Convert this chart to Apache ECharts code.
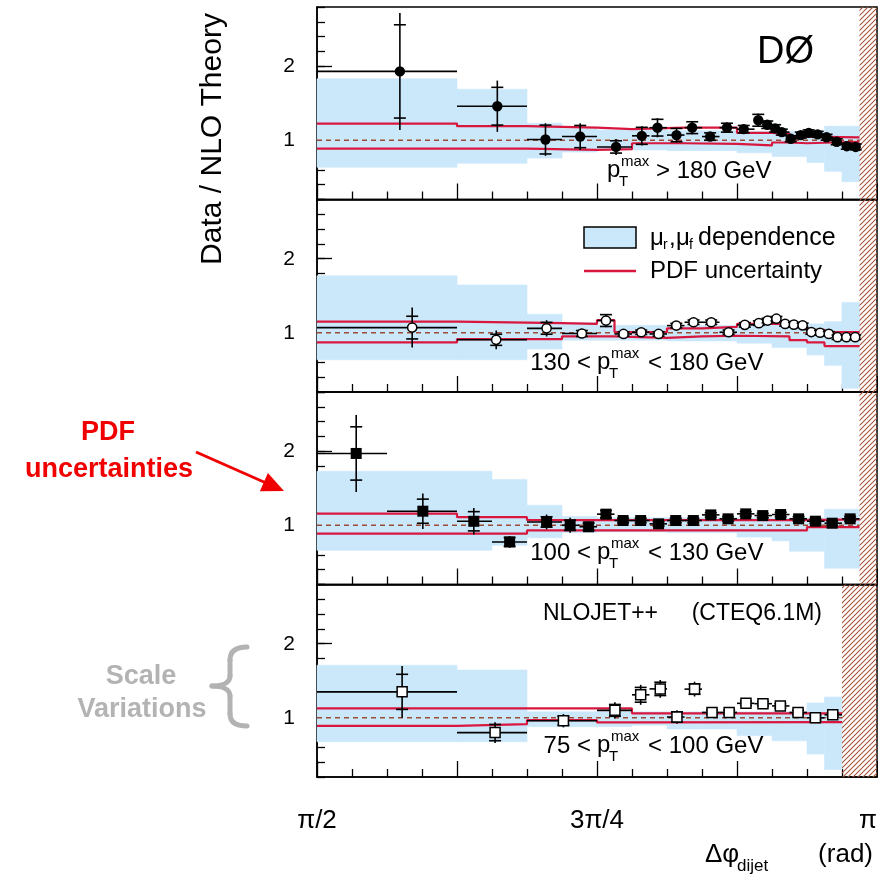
<!DOCTYPE html>
<html><head><meta charset="utf-8">
<script src="https://cdn.jsdelivr.net/npm/echarts@6/dist/echarts.min.js"></script>
<style>html,body{margin:0;padding:0;background:#fff}#c{width:878px;height:876px}</style>
</head><body><div id="c"></div>
<script>
// x values are Δφ in units of π
const xTickLabels = {0.5:'π/2', 0.75:'3π/4', 1:'π'};
const yTickLabels = [1, 2];
const panelLabels = ['> 180 GeV', '130 <|< 180 GeV', '100 <|< 130 GeV', '75 <|< 100 GeV'];

// ---- Panel 1: pT max > 180 GeV ----
const p1Edges = [0.5,0.625,0.6875,0.71875,0.75,0.78125,0.796875,0.8125,0.828125,0.84375,0.859375,0.875,0.890625,0.8984375,0.90625,0.9140625,0.921875,0.9296875,0.9375,0.9453125,0.953125,0.9609375,0.96875,0.9765625,0.984375];
const p1X = [0.574,0.661,0.704,0.735,0.767,0.790,0.804,0.821,0.835,0.851,0.866,0.881,0.894,0.902,0.909,0.915,0.923,0.932,0.939,0.947,0.955,0.964,0.973,0.981];
const p1Y = [1.93,1.46,1.01,1.05,0.91,1.06,1.17,1.07,1.17,1.05,1.17,1.15,1.27,1.21,1.16,1.11,1.02,1.07,1.10,1.08,1.04,0.98,0.92,0.91];
const p1Stat = [0.63,0.255,0.195,0.15,0.083,0.115,0.113,0.09,0.08,0.05,0.06,0.05,0.08,0.05,0.05,0.04,0.04,0.04,0.04,0.04,0.04,0.04,0.04,0.04];
const p1Tot = [0.79,0.346,0.22,0.18,0.108,0.13,0.13,0.10,0.09,0.06,0.07,0.06,0.09,0.06,0.06,0.05,0.05,0.05,0.05,0.05,0.05,0.05,0.05,0.05];
const p1BandEdges = [0.5,0.625,0.6875,0.71875,0.75,0.8125,0.875,0.90625,0.9375,0.953125,0.96875,0.984375];
const p1BandHi = [1.83,1.69,1.23,1.16,1.14,1.13,1.12,1.12,1.13,1.19,1.19];
const p1BandLo = [0.635,0.69,0.76,0.84,0.87,0.86,0.83,0.78,0.70,0.58,0.44];
const p1PdfEdges = [0.5,0.625,0.6875,0.75,0.78125,0.828125,0.875,0.90625,0.921875,0.9375,0.984375];
const p1PdfHi = [1.225,1.19,1.17,1.15,1.17,1.17,1.10,1.09,1.05,1.04];
const p1PdfLo = [0.887,0.887,0.87,0.88,0.96,0.95,0.93,0.97,0.96,0.98];
const p1Limit = 0.984375;

// ---- Panel 2: 130 < pT max < 180 GeV ----
const p2Edges = [0.5,0.625,0.6875,0.71875,0.75,0.765625,0.78125,0.796875,0.8125,0.828125,0.84375,0.859375,0.875,0.890625,0.8984375,0.90625,0.9140625,0.921875,0.9296875,0.9375,0.9453125,0.953125,0.9609375,0.96875,0.9765625,0.984375];
const p2X = [0.585,0.660,0.705,0.7365,0.758,0.7737,0.7895,0.805,0.8208,0.8362,0.852,0.8675,0.882,0.8945,0.9023,0.9102,0.918,0.9258,0.9336,0.9414,0.9492,0.957,0.9648,0.9727,0.9805];
const p2Y = [1.07,0.905,1.06,0.99,1.165,0.984,1.007,0.984,1.097,1.142,1.142,1.007,1.107,1.13,1.165,1.19,1.12,1.11,1.10,1.01,1.0,0.985,0.94,0.94,0.94];
const p2Stat = [0.153,0.075,0.08,0.04,0.08,0.03,0.03,0.03,0.03,0.03,0.03,0.03,0.03,0.03,0.03,0.03,0.03,0.03,0.03,0.03,0.03,0.03,0.03,0.03,0.03];
const p2Tot = [0.27,0.127,0.11,0.05,0.09,0.04,0.04,0.04,0.04,0.04,0.04,0.04,0.04,0.04,0.04,0.04,0.04,0.04,0.04,0.04,0.04,0.04,0.04,0.04,0.04];
const p2BandEdges = [0.5,0.625,0.6875,0.71875,0.75,0.8125,0.875,0.90625,0.9375,0.953125,0.96875,0.984375];
const p2BandHi = [1.77,1.645,1.25,1.14,1.10,1.10,1.12,1.12,1.12,1.15,1.41];
const p2BandLo = [0.635,0.635,0.78,0.90,0.90,0.89,0.86,0.80,0.70,0.56,0.25];
const p2PdfEdges = [0.5,0.625,0.71875,0.75,0.765625,0.8125,0.84375,0.875,0.921875,0.9375,0.953125,0.984375];
const p2PdfHi = [1.15,1.13,1.12,1.17,1.01,1.06,1.08,1.12,1.09,1.04,1.01];
const p2PdfLo = [0.87,0.914,0.95,0.95,0.93,0.95,0.96,0.95,0.90,0.87,0.82];
const p2Limit = 0.984375;

// ---- Panel 3: 100 < pT max < 130 GeV ----
const p3Edges = [0.5,0.5625,0.625,0.65625,0.6875,0.71875,0.734375,0.75,0.765625,0.78125,0.796875,0.8125,0.828125,0.84375,0.859375,0.875,0.890625,0.90625,0.921875,0.9375,0.953125,0.96875,0.984375];
const p3X = [0.535,0.5945,0.64,0.672,0.705,0.726,0.7425,0.758,0.7733,0.789,0.805,0.8203,0.836,0.8516,0.867,0.8828,0.898,0.914,0.930,0.945,0.960,0.976];
const p3Y = [1.97,1.19,1.054,0.775,1.045,1.0,0.98,1.15,1.064,1.064,1.019,1.064,1.064,1.14,1.087,1.154,1.131,1.145,1.087,1.055,1.028,1.087];
const p3Stat = [0.36,0.163,0.13,0.06,0.07,0.07,0.05,0.05,0.03,0.03,0.03,0.03,0.03,0.03,0.03,0.03,0.03,0.03,0.03,0.03,0.03,0.03];
const p3Tot = [0.52,0.24,0.18,0.08,0.10,0.10,0.07,0.06,0.04,0.04,0.04,0.04,0.04,0.04,0.04,0.04,0.04,0.04,0.04,0.04,0.04,0.04];
const p3BandEdges = [0.5,0.65625,0.6875,0.71875,0.75,0.8125,0.875,0.90625,0.921875,0.953125,0.984375];
const p3BandHi = [1.73,1.617,1.27,1.12,1.10,1.10,1.10,1.10,1.10,1.216];
const p3BandLo = [0.662,0.73,0.83,0.90,0.91,0.90,0.84,0.79,0.65,0.42];
const p3PdfEdges = [0.5,0.625,0.6875,0.9375,0.984375];
const p3PdfHi = [1.158,1.11,1.07,1.08];
const p3PdfLo = [0.887,0.887,0.93,0.975];
const p3Limit = 0.984375;

// ---- Panel 4: 75 < pT max < 100 GeV ----
const p4Edges = [0.5,0.625,0.6875,0.75,0.78125,0.796875,0.8125,0.828125,0.84375,0.859375,0.875,0.890625,0.90625,0.921875,0.9375,0.953125,0.96875];
const p4X = [0.576,0.659,0.720,0.766,0.789,0.8065,0.8214,0.8371,0.8527,0.868,0.883,0.8982,0.9137,0.9295,0.945,0.9605];
const p4Y = [1.35,0.80,0.96,1.10,1.31,1.39,1.01,1.387,1.072,1.072,1.195,1.19,1.16,1.072,1.0,1.04];
const p4Stat = [0.237,0.11,0.06,0.08,0.10,0.09,0.07,0.07,0.03,0.03,0.03,0.03,0.03,0.03,0.03,0.03];
const p4Tot = [0.35,0.14,0.09,0.11,0.135,0.12,0.09,0.10,0.04,0.04,0.04,0.04,0.04,0.04,0.04,0.04];
const p4BandEdges = [0.5,0.625,0.6875,0.78125,0.8125,0.84375,0.875,0.90625,0.9375,0.953125,0.96875];
const p4BandHi = [1.71,1.644,1.08,1.08,1.08,1.08,1.08,1.08,1.2,1.28];
const p4BandLo = [0.676,0.676,0.88,0.90,0.85,0.85,0.76,0.69,0.51,0.30];
const p4PdfEdges = [0.5,0.625,0.6875,0.75,0.78125,0.96875];
const p4PdfHi = [1.126,1.126,1.126,1.126,1.06];
const p4PdfLo = [0.89,0.914,0.968,0.937,0.94];
const p4Limit = 0.96875;

const panels = [
  {edges:p1Edges,x:p1X,y:p1Y,stat:p1Stat,tot:p1Tot,bE:p1BandEdges,bH:p1BandHi,bL:p1BandLo,pE:p1PdfEdges,pH:p1PdfHi,pL:p1PdfLo,lim:p1Limit,mk:'dot'},
  {edges:p2Edges,x:p2X,y:p2Y,stat:p2Stat,tot:p2Tot,bE:p2BandEdges,bH:p2BandHi,bL:p2BandLo,pE:p2PdfEdges,pH:p2PdfHi,pL:p2PdfLo,lim:p2Limit,mk:'ocircle'},
  {edges:p3Edges,x:p3X,y:p3Y,stat:p3Stat,tot:p3Tot,bE:p3BandEdges,bH:p3BandHi,bL:p3BandLo,pE:p3PdfEdges,pH:p3PdfHi,pL:p3PdfLo,lim:p3Limit,mk:'square'},
  {edges:p4Edges,x:p4X,y:p4Y,stat:p4Stat,tot:p4Tot,bE:p4BandEdges,bH:p4BandHi,bL:p4BandLo,pE:p4PdfEdges,pH:p4PdfHi,pL:p4PdfLo,lim:p4Limit,mk:'osquare'}
];

const FONT = '"Liberation Sans", Arial, Helvetica, sans-serif';
const BLUE = '#cbe8fb';
const RED = '#d8173f';
const HATCH = '#a5553c';
const Y_MIN = 0.2, Y_MAX = 2.8, X_MIN = 0.5, X_MAX = 1.0;
const GRID_LEFT = 317, GRID_W = 560, GRID_TOP = 7, GRID_H = 192.5;

// hatch pattern
const pc = document.createElement('canvas'); pc.width = 5; pc.height = 5;
const g2 = pc.getContext('2d'); g2.strokeStyle = HATCH; g2.lineWidth = 1.1;
g2.beginPath(); g2.moveTo(0,5); g2.lineTo(5,0); g2.moveTo(-1,1); g2.lineTo(1,-1); g2.moveTo(4,6); g2.lineTo(6,4); g2.stroke();
const hatchPattern = {image: pc, repeat: 'repeat'};

const grids = [], xAxes = [], yAxes = [], series = [];
panels.forEach((p, i) => {
  grids.push({left: GRID_LEFT, top: GRID_TOP + i*GRID_H, width: GRID_W, height: GRID_H, show: true, borderColor: '#000', borderWidth: 1.5, backgroundColor: 'transparent', containLabel:false, outerBoundsMode:'none'});
  xAxes.push({type:'value', gridIndex:i, position:'bottom', min:X_MIN, max:X_MAX, interval:0.125,
    axisLine:{show:true, onZero:false, lineStyle:{color:'#000', width:1.5}},
    axisTick:{show:true, inside:true, length:16, lineStyle:{color:'#000', width:1.3}},
    minorTick:{show:true, splitNumber:4, length:8, lineStyle:{color:'#000', width:1.3}},
    splitLine:{show:false}, minorSplitLine:{show:false},
    axisLabel: i === 3 ? {show:true, customValues:[0.5,0.75,1], alignMaxLabel:'right', formatter: v => xTickLabels[Math.round(v*4)/4] || '', fontSize:26, margin:31, color:'#000', fontFamily:FONT} : {show:false}
  });
});
panels.forEach((p, i) => {
  yAxes.push({type:'value', gridIndex:i, position:'left', min:Y_MIN, max:Y_MAX, interval:0.2,
    axisLine:{show:true, onZero:false, lineStyle:{color:'#000', width:1.5}},
    axisTick:{show:true, inside:true, length:8, lineStyle:{color:'#000', width:1.3}},
    axisLabel:{show:false}, splitLine:{show:false}});
});
panels.forEach((p, i) => {
  yAxes.push({type:'value', gridIndex:i, position:'left', offset:0, min:Y_MIN, max:Y_MAX, interval:0.2,
    axisLine:{show:false},
    axisTick:{show:true, inside:true, length:15, customValues:yTickLabels, lineStyle:{color:'#000', width:1.3}},
    axisLabel:{show:true, customValues:yTickLabels, fontSize:21, margin:22, color:'#000', fontFamily:FONT},
    splitLine:{show:false}});
});

panels.forEach((p, i) => {
  series.push({type:'custom', xAxisIndex:i, yAxisIndex:i, z:1, silent:true,
    data: p.bL.map((l, k) => [p.bE[k], p.bE[k+1], l, p.bH[k]]),
    renderItem: (params, api) => {
      const a = api.coord([api.value(0), api.value(3)]);
      const b = api.coord([api.value(1), api.value(2)]);
      return {type:'rect', shape:{x:a[0], y:a[1], width:b[0]-a[0], height:b[1]-a[1]}, style:{fill:BLUE, stroke:BLUE, lineWidth:0.6}};
    }});
  series.push({type:'line', xAxisIndex:i, yAxisIndex:i, z:2, silent:true, symbol:'none',
    data:[[X_MIN,1],[p.lim,1]], lineStyle:{color:'#9c4a35', width:1.6, type:[5,4]}});
  [p.pH, p.pL].forEach(vals => {
    series.push({type:'line', xAxisIndex:i, yAxisIndex:i, z:3, silent:true, symbol:'none', step:'end',
      data: p.pE.map((e, k) => [e, vals[Math.min(k, vals.length-1)]]),
      lineStyle:{color:RED, width:2.2}});
  });
  series.push({type:'custom', xAxisIndex:i, yAxisIndex:i, z:4, silent:true,
    data:[[p.lim, X_MAX]],
    renderItem: (params, api) => {
      const a = api.coord([api.value(0), Y_MAX]);
      const b = api.coord([api.value(1), Y_MIN]);
      return {type:'rect', shape:{x:a[0], y:a[1], width:b[0]-a[0], height:b[1]-a[1]}, style:{fill:hatchPattern}};
    }});
  const mk = p.mk;
  series.push({type:'custom', xAxisIndex:i, yAxisIndex:i, z:6, silent:true,
    data: p.x.map((x, k) => [x, p.y[k], p.edges[k], p.edges[k+1], p.stat[k], p.tot[k]]),
    renderItem: (params, api) => {
      const x = api.value(0), y = api.value(1), s = api.value(4), t = api.value(5);
      const c = api.coord([x, y]);
      const l = api.coord([api.value(2), y]), r = api.coord([api.value(3), y]);
      const tt = api.coord([x, y+t]), tb = api.coord([x, y-t]);
      const st = api.coord([x, y+s]), sb = api.coord([x, y-s]);
      const ls = {stroke:'#000', lineWidth:1.6};
      const ch = [
        {type:'line', shape:{x1:l[0], y1:c[1], x2:r[0], y2:c[1]}, style:ls},
        {type:'line', shape:{x1:c[0], y1:tt[1], x2:c[0], y2:tb[1]}, style:ls},
        {type:'line', shape:{x1:c[0]-6, y1:st[1], x2:c[0]+6, y2:st[1]}, style:ls},
        {type:'line', shape:{x1:c[0]-6, y1:sb[1], x2:c[0]+6, y2:sb[1]}, style:ls}
      ];
      if (mk === 'dot') ch.push({type:'circle', shape:{cx:c[0], cy:c[1], r:5.2}, style:{fill:'#000'}});
      else if (mk === 'ocircle') ch.push({type:'circle', shape:{cx:c[0], cy:c[1], r:4.6}, style:{fill:'#fff', stroke:'#000', lineWidth:1.5}});
      else if (mk === 'square') ch.push({type:'rect', shape:{x:c[0]-5.5, y:c[1]-5.5, width:11, height:11}, style:{fill:'#000'}});
      else ch.push({type:'rect', shape:{x:c[0]-5, y:c[1]-5, width:10, height:10}, style:{fill:'#fff', stroke:'#000', lineWidth:1.5}});
      return {type:'group', children: ch};
    }});
});

// ---- text / annotation graphics ----
function T(text, x, y, size, opts) {
  opts = opts || {};
  const el = {type:'text', x:x, y:y, z:100, style:{text:text, font:(opts.weight ? opts.weight + ' ' : '') + size + 'px ' + FONT, fill:opts.color || '#000', textAlign:opts.align || 'left', textVerticalAlign:'middle'}};
  if (opts.rotation) el.rotation = opts.rotation;
  return el;
}
function ptLabel(prefix, suffix, xPrefixRight, xP, xSuffix, yc) {
  const arr = [];
  if (prefix) arr.push(T(prefix, xPrefixRight, yc, 24, {align:'right'}));
  arr.push(T('p', xP, yc - 1, 24));
  arr.push(T('max', xP + 14, yc - 9, 15));
  arr.push(T('T', xP + 12, yc + 11, 15));
  arr.push(T(suffix, xSuffix, yc, 24));
  return arr;
}
const graphics = [];
graphics.push(T('Data / NLO Theory', 213, 139, 30, {align:'center', rotation: Math.PI/2}));
graphics.push(T('DØ', 757, 53, 38));
graphics.push(...ptLabel(null, panelLabels[0], 0, 607, 656, 171));
const yc = [0, 363, 553, 746];
for (let i = 1; i < 4; i++) {
  const parts = panelLabels[i].split('|');
  graphics.push(...ptLabel(parts[0], parts[1], 591, 597, 648, yc[i]));
}
graphics.push(T('NLOJET++', 543, 614, 23));
graphics.push(T('(CTEQ6.1M)', 822, 614, 23, {align:'right'}));
graphics.push({type:'rect', z:100, shape:{x:584, y:227, width:52, height:21}, style:{fill:BLUE, stroke:'#000', lineWidth:1.5}});
graphics.push({type:'line', z:100, shape:{x1:584, y1:271, x2:636, y2:271}, style:{stroke:RED, lineWidth:2.5}});
graphics.push(T('μ', 650, 238, 24));
graphics.push(T('r', 663, 245, 14));
graphics.push(T(',', 669, 238, 24));
graphics.push(T('μ', 676, 238, 24));
graphics.push(T('f', 689, 245, 14));
graphics.push(T('dependence', 698, 238, 25));
graphics.push(T('PDF uncertainty', 650, 271, 24));
graphics.push(T('Δφ', 705, 855, 26));
graphics.push(T('dijet', 737, 866, 17));
graphics.push(T('(rad)', 873, 855, 26, {align:'right'}));
graphics.push(T('PDF', 108, 433, 27, {weight:'bold', color:'#f00000', align:'center'}));
graphics.push(T('uncertainties', 109, 470, 27, {weight:'bold', color:'#f00000', align:'center'}));
graphics.push({type:'line', z:100, shape:{x1:196, y1:452, x2:265, y2:482.5}, style:{stroke:'#f00000', lineWidth:3}});
graphics.push({type:'polygon', z:100, shape:{points:[[284,491],[259.9,491.2],[267.9,473]]}, style:{fill:'#f00000'}});
graphics.push(T('Scale', 141, 677, 27, {weight:'bold', color:'#b3b3b3', align:'center'}));
graphics.push(T('Variations', 142, 710, 27, {weight:'bold', color:'#b3b3b3', align:'center'}));
const braceStyle = {fill:'none', stroke:'#b3b3b3', lineWidth:5, lineCap:'round'};
graphics.push({type:'bezierCurve', z:100, shape:{x1:247, y1:647, cpx1:236, cpy1:647, cpx2:230, cpy2:651, x2:230, y2:660}, style:braceStyle});
graphics.push({type:'line', z:100, shape:{x1:230, y1:660, x2:230, y2:676}, style:braceStyle});
graphics.push({type:'bezierCurve', z:100, shape:{x1:230, y1:676, cpx1:230, cpy1:683, cpx2:222, cpy2:686, x2:212, y2:686}, style:braceStyle});
graphics.push({type:'bezierCurve', z:100, shape:{x1:212, y1:686, cpx1:222, cpy1:686, cpx2:230, cpy2:689, x2:230, y2:696}, style:braceStyle});
graphics.push({type:'line', z:100, shape:{x1:230, y1:696, x2:230, y2:714}, style:braceStyle});
graphics.push({type:'bezierCurve', z:100, shape:{x1:230, y1:714, cpx1:230, cpy1:722, cpx2:236, cpy2:726, x2:247, y2:726}, style:braceStyle});

const chart = echarts.init(document.getElementById('c'), null, {renderer:'canvas'});
chart.setOption({
  animation:false,
  backgroundColor:'#fff',
  grid:grids, xAxis:xAxes, yAxis:yAxes, series:series,
  graphic:{elements:graphics}
});
</script></body></html>
